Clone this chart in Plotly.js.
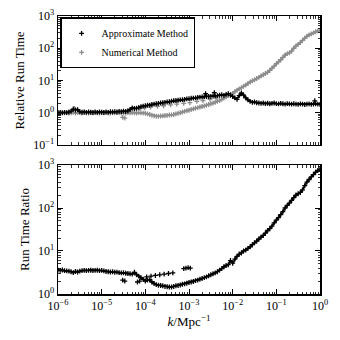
<!DOCTYPE html>
<html>
<head>
<meta charset="utf-8">
<script src="https://cdn.plot.ly/plotly-3.0.1.min.js"></script>
<style>
  html, body { margin: 0; padding: 0; background: #fff; }
  #plt { width: 340px; height: 340px; }
</style>
</head>
<body>
<div id="plt"></div>
<script>
// log10(k) sample points, k in 1/Mpc
var kExp = [
    -6.00, -5.95, -5.90, -5.85, -5.80, -5.75, -5.70, -5.65, -5.60, -5.55,
    -5.50, -5.45, -5.40, -5.35, -5.30, -5.25, -5.20, -5.15, -5.10, -5.05,
    -5.00, -4.95, -4.90, -4.85, -4.80, -4.75, -4.70, -4.65, -4.60, -4.55,
    -4.50, -4.45, -4.40, -4.35, -4.30, -4.25, -4.20, -4.15, -4.10, -4.05,
    -4.00, -3.95, -3.90, -3.85, -3.80, -3.75, -3.70, -3.65, -3.60, -3.55,
    -3.50, -3.45, -3.40, -3.35, -3.30, -3.25, -3.20, -3.15, -3.10, -3.05,
    -3.00, -2.95, -2.90, -2.85, -2.80, -2.75, -2.70, -2.65, -2.60, -2.55,
    -2.50, -2.45, -2.40, -2.35, -2.30, -2.25, -2.20, -2.15, -2.10, -2.05,
    -2.00, -1.95, -1.90, -1.85, -1.80, -1.75, -1.70, -1.65, -1.60, -1.55,
    -1.50, -1.45, -1.40, -1.35, -1.30, -1.25, -1.20, -1.15, -1.10, -1.05,
    -1.00, -0.95, -0.90, -0.85, -0.80, -0.75, -0.70, -0.65, -0.60, -0.55,
    -0.50, -0.45, -0.40, -0.35, -0.30, -0.25, -0.20, -0.15, -0.10, -0.05,
    0.00
];

var approxTime = [
    1.00, 1.02, 0.99, 1.03, 1.01, 1.05, 1.12, 1.30, 1.22, 1.25,
    1.08, 1.04, 1.06, 1.03, 1.05, 1.04, 1.02, 1.05, 1.03, 1.06,
    1.04, 1.02, 1.05, 1.03, 1.07, 1.05, 1.08, 1.06, 1.10, 1.08,
    1.12, 1.10, 1.15, 1.25, 1.42, 1.35, 1.38, 1.45, 1.55, 1.60,
    1.65, 1.70, 1.72, 1.80, 1.85, 1.90, 1.95, 2.00, 2.05, 2.10,
    2.15, 2.20, 2.30, 2.35, 2.40, 2.45, 2.50, 2.55, 2.60, 2.70,
    2.75, 2.80, 2.85, 2.90, 3.00, 3.05, 3.10, 3.15, 3.20, 3.20,
    3.20, 3.30, 3.35, 3.40, 3.50, 3.60, 3.45, 3.70, 3.90, 3.50,
    3.20, 2.90, 2.60, 3.40, 4.10, 3.50, 2.90, 2.50, 2.25, 2.10,
    2.15, 2.05, 2.00, 1.95, 2.00, 1.92, 1.98, 1.90, 1.95, 2.00,
    1.92, 1.88, 1.95, 1.90, 1.85, 1.92, 1.88, 1.85, 1.90, 1.85,
    1.82, 1.88, 1.85, 1.80, 1.85, 1.88, 1.82, 1.85, 1.90, 1.85,
    1.82
];

var numericTime = [
    0.98, 1.00, 1.02, 0.99, 1.01, 0.97, 1.00, 1.03, 0.98, 1.01,
    1.00, 0.98, 1.02, 1.00, 0.97, 1.01, 0.99, 1.02, 1.00, 0.98,
    1.01, 0.99, 1.03, 1.00, 0.98, 1.02, 0.99, 1.01, 1.00, 0.97,
    1.00, 0.98, 1.01, 0.99, 1.02, 1.00, 0.98, 1.01, 0.99, 0.97,
    0.96, 0.92, 0.88, 0.84, 0.80, 0.78, 0.77, 0.79, 0.80, 0.82,
    0.83, 0.85, 0.86, 0.88, 0.92, 0.96, 1.00, 1.05, 1.10, 1.15,
    1.20, 1.26, 1.32, 1.38, 1.44, 1.50, 1.56, 1.62, 1.70, 1.80,
    1.90, 2.00, 2.10, 2.25, 2.40, 2.60, 2.85, 3.10, 3.40, 3.70,
    4.00, 4.50, 5.00, 5.50, 6.00, 6.60, 7.20, 8.10, 9.00, 9.80,
    10.5, 11.5, 12.5, 14.0, 15.0, 16.5, 18.0, 20.5, 24.0, 28.0,
    33.0, 38.0, 44.0, 52.0, 62.0, 68.0, 72.0, 82.0, 100, 118,
    132, 150, 175, 205, 235, 260, 280, 300, 325, 345,
    360
];

var timeRatio = [
    3.60, 3.55, 3.62, 3.50, 3.45, 3.40, 3.30, 3.15, 3.35, 3.25,
    3.40, 3.50, 3.55, 3.50, 3.55, 3.58, 3.52, 3.55, 3.58, 3.50,
    3.55, 3.45, 3.35, 3.30, 3.25, 3.28, 3.20, 3.22, 3.15, 3.10,
    3.12, 3.05, 3.00, 2.95, 2.90, 3.20, 2.80, 2.60, 2.40, 2.20,
    2.00, 2.10, 2.15, 1.90, 1.75, 1.65, 1.60, 1.58, 1.55, 1.50,
    1.48, 1.45, 1.45, 1.50, 1.55, 1.58, 1.62, 1.68, 1.72, 1.78,
    1.85, 1.90, 1.95, 2.05, 2.10, 2.20, 2.30, 2.40, 2.50, 2.65,
    2.80, 2.95, 3.10, 3.30, 3.60, 3.90, 4.30, 4.60, 4.80, 6.00,
    5.20, 6.50, 7.50, 8.50, 9.00, 10.0, 10.5, 11.5, 12.5, 14.0,
    15.5, 17.0, 19.0, 21.0, 23.0, 26.0, 30.0, 33.0, 38.0, 45.0,
    52.0, 60.0, 70.0, 82.0, 100, 115, 130, 150, 175, 200,
    215, 230, 265, 330, 400, 460, 530, 600, 680, 750,
    800
];

// stray points off the main tracks
var approxExtraExp = [-2.62, -2.42, -0.12];
var approxExtra = [3.9, 4.2, 2.35];
var numericExtraExp = [-5.62, -4.52, -4.47, -4.12, -4.02, -3.88, -3.72, -3.58,
    -3.42, -3.28, -3.12, -2.98, -2.82, -2.68, -2.52, -2.38];
var numericExtra = [1.35, 0.72, 0.68, 1.35, 1.42, 1.50, 1.58, 1.65,
    1.75, 1.85, 1.95, 2.05, 2.25, 2.40, 2.60, 2.85];
var ratioExtraExp = [-4.52, -4.47, -4.18, -4.13, -3.97, -3.87, -3.77, -3.67,
    -3.57, -3.47, -3.37, -3.12, -3.07, -3.02, -2.97];
var ratioExtra = [2.1, 2.0, 1.9, 2.0, 2.5, 2.6, 2.7, 2.8,
    2.9, 3.0, 3.1, 3.9, 4.0, 4.1, 4.0];

// decade tick labels
var xTickVals = [1e-6, 1e-5, 1e-4, 1e-3, 1e-2, 1e-1, 1];
var xTickText = ['10<sup>\u22126</sup>', '10<sup>\u22125</sup>', '10<sup>\u22124</sup>',
    '10<sup>\u22123</sup>', '10<sup>\u22122</sup>', '10<sup>\u22121</sup>', '10<sup>0</sup>'];
var yTopVals = [0.1, 1, 10, 100, 1000];
var yTopText = ['10<sup>\u22121</sup>', '10<sup>0</sup>', '10<sup>1</sup>', '10<sup>2</sup>', '10<sup>3</sup>'];
var yBotVals = [1, 10, 100, 1000];
var yBotText = ['10<sup>0</sup>', '10<sup>1</sup>', '10<sup>2</sup>', '10<sup>3</sup>'];

var FONT = 'Liberation Serif, Times New Roman, serif';
var GRAY = '#8c8c8c';

function toK(ex) {
    return ex.map(function (e) { return Math.pow(10, e); });
}

function crossTrace(xe, y, col, name, xa, ya, legend) {
    return {
        x: toK(xe), y: y,
        xaxis: xa, yaxis: ya,
        type: 'scatter', mode: 'markers',
        marker: {symbol: 'cross-thin-open', size: 3.5, color: col, line: {color: col, width: 1.3}},
        name: name, showlegend: legend
    };
}

// thin band under the crosses so the dense track reads as solid
function bandTrace(xe, y, col, xa, ya) {
    return {
        x: toK(xe), y: y,
        xaxis: xa, yaxis: ya,
        type: 'scatter', mode: 'lines',
        line: {color: col, width: 1.8},
        showlegend: false, hoverinfo: 'skip'
    };
}

function logAxis(range, domain, anchor, vals, text) {
    return {
        type: 'log', range: range, domain: domain, anchor: anchor,
        tickmode: 'array', tickvals: vals, ticktext: text,
        showgrid: false, zeroline: false,
        showline: true, linecolor: 'black', linewidth: 1.5, mirror: 'allticks',
        ticks: 'inside', ticklen: 5, tickwidth: 1, tickcolor: 'black',
        minor: {ticks: 'inside', ticklen: 2.5, tickwidth: 0.8, tickcolor: 'black', showgrid: false, dtick: 'D1'},
        tickfont: {family: FONT, size: 12, color: 'black'}
    };
}

function createPlots() {
    var data = [
        bandTrace(kExp, numericTime, GRAY, 'x2', 'y2'),
        bandTrace(kExp, approxTime, 'black', 'x2', 'y2'),
        bandTrace(kExp, timeRatio, 'black', 'x', 'y'),
        crossTrace(kExp.concat(numericExtraExp), numericTime.concat(numericExtra), GRAY, 'Numerical Method', 'x2', 'y2', true),
        crossTrace(kExp.concat(approxExtraExp), approxTime.concat(approxExtra), 'black', 'Approximate Method', 'x2', 'y2', true),
        crossTrace(kExp.concat(ratioExtraExp), timeRatio.concat(ratioExtra), 'black', 'ratio', 'x', 'y', false)
    ];

    var titleFont = {family: FONT, size: 13, color: 'black'};
    var xa = logAxis([-6, 0], [0, 1], 'y', xTickVals, xTickText);
    xa.title = {text: '<i>k</i>/Mpc<sup>\u22121</sup>', font: titleFont, standoff: 5};
    var xa2 = logAxis([-6, 0], [0, 1], 'y2', xTickVals, xTickText);
    xa2.matches = 'x';
    xa2.showticklabels = false;

    var ya = logAxis([0, 3], [0, 0.464], 'x', yBotVals, yBotText);
    ya.title = {text: 'Run Time Ratio', font: titleFont, standoff: 5};
    var ya2 = logAxis([-1, 3], [0.536, 1], 'x2', yTopVals, yTopText);
    ya2.title = {text: 'Relative Run Time', font: titleFont, standoff: 5};

    var layout = {
        width: 340, height: 340,
        margin: {l: 58, r: 20, t: 16, b: 46},
        paper_bgcolor: 'white', plot_bgcolor: 'white',
        font: {family: FONT, color: 'black'},
        xaxis: xa, xaxis2: xa2, yaxis: ya, yaxis2: ya2,
        showlegend: true,
        legend: {
            x: 0.008, y: 0.995, xanchor: 'left', yanchor: 'top',
            bgcolor: 'white', bordercolor: 'black', borderwidth: 1.5,
            font: {family: FONT, size: 10, color: 'black'},
            traceorder: 'reversed', tracegroupgap: 0,
            itemwidth: 30
        }
    };

    Plotly.newPlot(document.getElementById('plt'), data, layout, {staticPlot: true});
}

createPlots();
</script>
</body>
</html>
